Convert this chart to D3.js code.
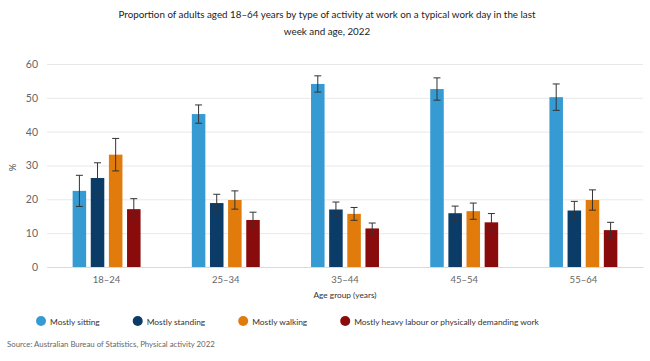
<!DOCTYPE html>
<html>
<head>
<meta charset="utf-8">
<script src="https://cdn.jsdelivr.net/npm/d3@7"></script>
<style>
  body { margin: 0; background: #fff; }
  svg text { font-family: Lato, "Noto Sans", sans-serif; }
</style>
</head>
<body>
<div id="chart"></div>
<script>
// data
var groups = ["18–24", "25–34", "35–44", "45–54", "55–64"];
var seriesNames = ["Mostly sitting", "Mostly standing", "Mostly walking", "Mostly heavy labour or physically demanding work"];
var sitting = [22.5, 45.2, 54.1, 52.6, 50.2];
var standing = [26.3, 18.9, 17.0, 15.9, 16.7];
var walking = [33.2, 19.8, 15.7, 16.5, 19.8];
var heavy = [17.1, 13.9, 11.4, 13.2, 10.9];
// margins of error (+/-)
var sittingMoe = [4.6, 2.7, 2.4, 3.3, 3.9];
var standingMoe = [4.5, 2.6, 2.2, 2.1, 2.7];
var walkingMoe = [4.8, 2.7, 1.9, 2.4, 3.0];
var heavyMoe = [3.1, 2.3, 1.6, 2.6, 2.3];
var yTicks = [0, 10, 20, 30, 40, 50, 60];
var colours = ["#379bd3", "#0b3c68", "#e07b0c", "#8a0b0b"];

var title = ["Proportion of adults aged 18–64 years by type of activity at work on a typical work day in the last",
  "week and age, 2022"];
var source = "Source: Australian Bureau of Statistics, Physical activity 2022";

var width = 650, height = 361;
var margin = { top: 64, right: 7, bottom: 94, left: 47 };

var values = [sitting, standing, walking, heavy];
var moes = [sittingMoe, standingMoe, walkingMoe, heavyMoe];

// flatten to rows for drawing
var rows = [];
groups.forEach(function (g, gi) {
  seriesNames.forEach(function (s, si) {
    rows.push({ group: g, series: s, value: values[si][gi], moe: moes[si][gi], colour: colours[si] });
  });
});

var svg = d3.select("#chart")
  .append("svg")
  .attr("width", width)
  .attr("height", height);

// Scales
var x0 = d3.scaleBand()
  .domain(groups)
  .range([margin.left, width - margin.right])
  .paddingInner(0.43)
  .paddingOuter(0.215);
var x1 = d3.scaleBand()
  .domain(seriesNames)
  .range([0, x0.bandwidth()])
  .paddingInner(0.254);
var y = d3.scaleLinear()
  .domain([0, 60])
  .range([height - margin.bottom, margin.top]);

// gridlines + y labels
var yAxis = svg.append("g")
  .attr("transform", "translate(" + margin.left + ",0)")
  .call(d3.axisLeft(y).tickValues(yTicks).tickSize(-(width - margin.left - margin.right)).tickPadding(9));
yAxis.select(".domain").remove();
yAxis.selectAll(".tick line").attr("stroke", "#e8e8e8");
yAxis.selectAll(".tick text").attr("fill", "#666").style("font-size", "10.5px");

// x axis
var xAxis = svg.append("g")
  .attr("transform", "translate(0," + y(0) + ")")
  .call(d3.axisBottom(x0).tickSize(0).tickPadding(9));
xAxis.select(".domain").attr("stroke", "#d9d9d9");
xAxis.selectAll(".tick text").attr("fill", "#666").style("font-size", "9.5px");

// bars
svg.append("g")
  .selectAll("rect")
  .data(rows)
  .enter()
  .append("rect")
  .attr("x", function (d) { return x0(d.group) + x1(d.series); })
  .attr("y", function (d) { return y(d.value); })
  .attr("width", x1.bandwidth())
  .attr("height", function (d) { return y(0) - y(d.value); })
  .attr("fill", function (d) { return d.colour; });

// error bars
var err = svg.append("g")
  .attr("stroke", "#333")
  .attr("stroke-width", 1)
  .selectAll("g")
  .data(rows)
  .enter()
  .append("g")
  .attr("transform", function (d) { return "translate(" + (x0(d.group) + x1(d.series) + x1.bandwidth() / 2) + ",0)"; });
err.append("line")
  .attr("y1", function (d) { return y(d.value + d.moe); })
  .attr("y2", function (d) { return y(d.value - d.moe); });
err.append("line")
  .attr("x1", -3.5).attr("x2", 3.5)
  .attr("y1", function (d) { return y(d.value + d.moe); })
  .attr("y2", function (d) { return y(d.value + d.moe); });
err.append("line")
  .attr("x1", -3.5).attr("x2", 3.5)
  .attr("y1", function (d) { return y(d.value - d.moe); })
  .attr("y2", function (d) { return y(d.value - d.moe); });

// axis titles
svg.append("text")
  .attr("transform", "translate(16," + (y(30) + 2) + ") rotate(-90)")
  .attr("text-anchor", "middle")
  .attr("fill", "#555")
  .style("font-size", "9.5px")
  .text("%");
svg.append("text")
  .attr("x", (margin.left + width - margin.right) / 2)
  .attr("y", 298)
  .attr("text-anchor", "middle")
  .attr("fill", "#333")
  .style("font-size", "8.3px")
  .text("Age group (years)");

// title
svg.append("g")
  .selectAll("text")
  .data(title)
  .enter()
  .append("text")
  .attr("x", 327)
  .attr("y", function (d, i) { return 18 + i * 17; })
  .attr("text-anchor", "middle")
  .attr("fill", "#222")
  .style("font-size", "9.8px")
  .text(function (d) { return d; });

// legend, items flow along one row
var lx = 41;
seriesNames.forEach(function (s, i) {
  var item = svg.append("g").attr("transform", "translate(" + lx + ",321)");
  item.append("circle").attr("r", 5).attr("fill", colours[i]);
  var t = item.append("text")
    .attr("x", 9)
    .attr("y", 3.5)
    .attr("fill", "#333")
    .style("font-size", "8.4px")
    .text(s);
  lx += 9 + t.node().getComputedTextLength() + 38;
});

// source
svg.append("text")
  .attr("x", 7)
  .attr("y", 347)
  .attr("fill", "#666")
  .style("font-size", "7.8px")
  .text(source);
</script>
</body>
</html>
